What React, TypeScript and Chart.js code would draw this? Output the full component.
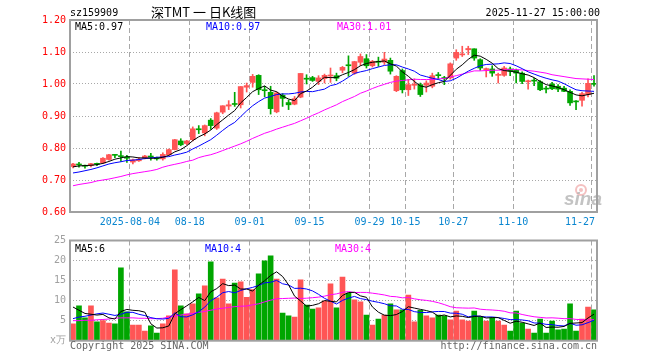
import React, { useEffect, useRef } from 'react';
import { Chart, registerables } from 'chart.js';
Chart.register(...registerables);

// ---------- data ----------
const symbol = 'sz159909';
const title = '深TMT 一 日K线图';
const dateTime = '2025-11-27 15:00:00';
const priceMaLabels = ['MA5:0.97', 'MA10:0.97', 'MA30:1.01'];
const volMaLabels = ['MA5:6', 'MA10:4', 'MA30:4'];
const volUnit = 'x万';
const copyright = 'Copyright 2025 SINA.COM';
const siteUrl = 'http://finance.sina.com.cn';

const tickIndex = [10, 20, 30, 40, 50, 56, 64, 74, 87];
const tickLabels = ['2025-08-04', '08-18', '09-01', '09-15', '09-29', '10-15', '10-27', '11-10', '11-27'];
const priceTicks = [0.6, 1.2];
const volTicks = [0, 25];

const opens = [
  0.742, 0.749, 0.744, 0.745, 0.750, 0.753, 0.764, 0.778, 0.775, 0.772,
  0.756, 0.760, 0.768, 0.775, 0.768, 0.766, 0.779, 0.795, 0.822, 0.814,
  0.826, 0.859, 0.847, 0.887, 0.862, 0.912, 0.931, 0.939, 0.935, 0.990,
  1.005, 1.027, 0.982, 0.974, 0.913, 0.965, 0.942, 0.937, 0.959, 1.017,
  1.020, 1.008, 1.017, 1.025, 1.026, 1.043, 1.059, 1.034, 1.068, 1.079,
  1.057, 1.070, 1.068, 1.074, 0.979, 1.042, 0.982, 0.996, 0.998, 0.996,
  0.993, 1.028, 1.019, 1.019, 1.081, 1.091, 1.107, 1.110, 1.076, 1.045,
  1.047, 1.027, 1.027, 1.047, 1.043, 1.034, 1.007, 1.011, 1.007, 0.986,
  1.000, 0.993, 0.987, 0.977, 0.946, 0.949, 0.967, 1.001,
];
const closes = [
  0.750, 0.747, 0.743, 0.751, 0.749, 0.768, 0.779, 0.777, 0.773, 0.768,
  0.763, 0.765, 0.775, 0.771, 0.766, 0.780, 0.795, 0.826, 0.810, 0.822,
  0.860, 0.857, 0.870, 0.870, 0.910, 0.932, 0.935, 0.936, 0.992, 0.995,
  1.024, 0.982, 0.979, 0.923, 0.972, 0.955, 0.935, 0.954, 1.033, 1.015,
  1.011, 1.019, 1.027, 1.027, 1.018, 1.052, 1.057, 1.070, 1.086, 1.057,
  1.071, 1.068, 1.078, 1.040, 1.024, 0.982, 0.998, 0.998, 0.967, 1.003,
  1.026, 1.026, 1.017, 1.063, 1.099, 1.094, 1.111, 1.081, 1.050, 1.047,
  1.034, 1.029, 1.050, 1.040, 1.034, 1.008, 1.009, 1.009, 0.982, 0.984,
  0.985, 0.984, 0.977, 0.941, 0.944, 0.970, 1.002, 0.999,
];
const highs = [
  0.752, 0.755, 0.747, 0.752, 0.753, 0.770, 0.780, 0.779, 0.790, 0.777,
  0.765, 0.770, 0.777, 0.783, 0.772, 0.785, 0.797, 0.827, 0.829, 0.824,
  0.866, 0.870, 0.872, 0.892, 0.912, 0.932, 0.948, 0.974, 0.992, 1.003,
  1.030, 1.029, 0.993, 0.993, 0.975, 0.970, 0.950, 0.961, 1.033, 1.029,
  1.024, 1.026, 1.031, 1.050, 1.034, 1.055, 1.088, 1.071, 1.094, 1.092,
  1.074, 1.084, 1.099, 1.081, 1.026, 1.047, 1.014, 1.016, 1.003, 1.010,
  1.034, 1.036, 1.024, 1.066, 1.107, 1.118, 1.118, 1.110, 1.079, 1.050,
  1.057, 1.034, 1.055, 1.053, 1.047, 1.038, 1.012, 1.018, 1.011, 0.993,
  1.005, 0.998, 0.993, 0.982, 0.948, 0.974, 1.016, 1.026,
];
const lows = [
  0.738, 0.740, 0.737, 0.741, 0.745, 0.752, 0.762, 0.770, 0.758, 0.755,
  0.750, 0.758, 0.766, 0.762, 0.762, 0.762, 0.777, 0.794, 0.807, 0.810,
  0.822, 0.845, 0.838, 0.858, 0.858, 0.907, 0.920, 0.930, 0.925, 0.975,
  0.990, 0.967, 0.960, 0.906, 0.910, 0.930, 0.920, 0.935, 0.957, 1.000,
  1.008, 0.998, 1.003, 1.005, 1.010, 1.035, 1.024, 1.030, 1.057, 1.050,
  1.053, 1.055, 1.061, 1.031, 0.976, 0.972, 0.964, 0.984, 0.961, 0.975,
  0.988, 1.016, 0.998, 1.015, 1.074, 1.086, 1.092, 1.074, 1.043, 1.022,
  1.024, 1.003, 1.024, 1.026, 1.003, 1.001, 0.984, 0.995, 0.979, 0.972,
  0.982, 0.976, 0.976, 0.933, 0.920, 0.931, 0.960, 0.993,
];
const ma5 = [
  0.741, 0.744, 0.745, 0.746, 0.748, 0.752, 0.758, 0.765, 0.769, 0.773,
  0.772, 0.769, 0.769, 0.768, 0.768, 0.771, 0.777, 0.788, 0.795, 0.807,
  0.823, 0.835, 0.844, 0.856, 0.873, 0.888, 0.903, 0.917, 0.941, 0.958,
  0.976, 0.986, 0.994, 0.981, 0.976, 0.962, 0.953, 0.948, 0.970, 0.978,
  0.990, 1.006, 1.021, 1.020, 1.020, 1.029, 1.036, 1.045, 1.057, 1.064,
  1.068, 1.070, 1.072, 1.063, 1.056, 1.038, 1.024, 1.008, 0.994, 0.990,
  0.998, 1.004, 1.008, 1.027, 1.046, 1.060, 1.077, 1.090, 1.087, 1.077,
  1.065, 1.048, 1.042, 1.040, 1.037, 1.032, 1.028, 1.020, 1.008, 0.998,
  0.994, 0.989, 0.982, 0.974, 0.966, 0.963, 0.967, 0.971,
];
const ma10 = [
  0.722, 0.725, 0.729, 0.733, 0.738, 0.744, 0.750, 0.754, 0.757, 0.761,
  0.762, 0.764, 0.767, 0.769, 0.771, 0.772, 0.773, 0.778, 0.782, 0.787,
  0.797, 0.806, 0.816, 0.826, 0.840, 0.855, 0.869, 0.880, 0.898, 0.916,
  0.932, 0.945, 0.956, 0.961, 0.967, 0.969, 0.969, 0.971, 0.975, 0.977,
  0.976, 0.980, 0.984, 0.995, 0.999, 1.009, 1.021, 1.033, 1.038, 1.042,
  1.048, 1.053, 1.058, 1.060, 1.060, 1.053, 1.047, 1.040, 1.028, 1.023,
  1.018, 1.014, 1.008, 1.010, 1.018, 1.029, 1.040, 1.049, 1.057, 1.061,
  1.062, 1.063, 1.066, 1.064, 1.057, 1.048, 1.038, 1.031, 1.024, 1.018,
  1.013, 1.009, 1.001, 0.991, 0.982, 0.979, 0.978, 0.977,
];
const ma30 = [
  0.682, 0.686, 0.689, 0.692, 0.697, 0.700, 0.703, 0.707, 0.711, 0.716,
  0.720, 0.723, 0.726, 0.729, 0.733, 0.740, 0.745, 0.749, 0.753, 0.758,
  0.762, 0.770, 0.775, 0.779, 0.785, 0.792, 0.799, 0.806, 0.813, 0.821,
  0.830, 0.838, 0.846, 0.852, 0.859, 0.865, 0.871, 0.877, 0.885, 0.893,
  0.902, 0.910, 0.919, 0.927, 0.935, 0.945, 0.953, 0.961, 0.971, 0.978,
  0.986, 0.993, 0.999, 1.005, 1.009, 1.011, 1.013, 1.015, 1.014, 1.014,
  1.014, 1.016, 1.017, 1.022, 1.026, 1.031, 1.036, 1.041, 1.041, 1.042,
  1.043, 1.043, 1.044, 1.045, 1.045, 1.044, 1.042, 1.040, 1.037, 1.034,
  1.029, 1.026, 1.023, 1.020, 1.017, 1.016, 1.015, 1.014,
];
const volumes = [
  4.2, 8.7, 5.7, 8.7, 4.7, 5.0, 4.4, 4.2, 18.2, 7.2,
  3.9, 3.9, 2.4, 3.7, 1.9, 4.2, 6.2, 17.7, 8.7, 6.7,
  9.2, 11.7, 13.7, 19.7, 10.7, 15.4, 9.2, 14.4, 14.7, 10.8,
  12.75, 16.7, 19.9, 21.2, 15.4, 6.9, 6.2, 5.9, 15.2, 8.9,
  7.9, 8.2, 9.9, 14.2, 8.2, 15.9, 11.9, 10.2, 9.7, 6.4,
  3.9, 5.4, 6.4, 9.2, 7.7, 7.7, 11.4, 4.7, 7.6, 6.2,
  5.7, 6.4, 6.2, 5.2, 7.4, 5.2, 4.9, 7.4, 5.9, 4.9,
  5.7, 4.9, 3.9, 2.4, 7.4, 4.4, 2.9, 1.9, 5.4, 1.9,
  4.9, 2.7, 2.9, 9.2, 2.4, 5.4, 8.4, 7.7,
];
const volMa5 = [
  8.4, 7.6, 6.8, 6.6, 6.4, 6.56, 5.7, 5.4, 7.3, 7.8,
  7.58, 7.48, 7.12, 4.22, 3.16, 3.22, 3.68, 6.74, 7.74, 8.7,
  9.7, 10.8, 10.0, 12.2, 13.0, 14.24, 13.74, 13.88, 12.88, 12.9,
  12.37, 13.87, 14.97, 16.27, 17.19, 16.02, 13.92, 11.12, 9.92, 8.62,
  8.82, 9.22, 10.02, 9.82, 9.68, 11.28, 12.02, 12.08, 11.18, 10.82,
  8.42, 7.12, 6.36, 6.26, 6.52, 7.28, 8.48, 8.14, 7.82, 7.52,
  7.12, 6.12, 6.42, 5.94, 6.18, 6.08, 5.78, 6.02, 6.16, 5.66,
  5.76, 5.76, 5.06, 4.36, 4.86, 4.6, 4.2, 3.8, 4.4, 3.3,
  3.4, 3.36, 3.56, 4.32, 4.42, 4.52, 5.66, 6.62,
];
const volMa10 = [
  5.5, 5.9, 6.1, 6.4, 6.7, 6.9, 6.6, 6.3, 6.6, 7.1,
  7.07, 6.59, 6.26, 5.76, 5.48, 5.4, 5.58, 6.93, 5.98, 5.93,
  6.46, 7.24, 8.37, 9.97, 10.85, 11.97, 12.27, 11.94, 12.54, 12.95,
  13.3, 13.8, 14.43, 14.58, 15.05, 14.2, 13.9, 13.05, 13.1, 12.9,
  12.42, 11.57, 10.57, 9.87, 9.15, 10.05, 10.62, 11.05, 10.5, 10.25,
  9.85, 9.57, 9.22, 8.72, 8.67, 7.85, 7.8, 7.25, 7.04, 7.02,
  7.2, 7.3, 7.28, 6.88, 6.85, 6.6, 5.95, 6.22, 6.05, 5.92,
  5.92, 5.77, 5.54, 5.26, 5.26, 5.18, 4.98, 4.43, 4.38, 4.08,
  4.0, 3.78, 3.68, 4.36, 3.86, 3.96, 4.51, 5.09,
];
const volMa30 = [
  5.0, 5.0, 5.1, 5.1, 5.2, 5.3, 5.4, 5.6, 5.7, 5.7,
  5.7, 5.6, 5.6, 5.5, 5.5, 5.6, 5.9, 6.1, 6.4, 6.6,
  6.8, 7.1, 7.3, 7.6, 7.9, 8.1, 8.3, 8.5, 8.6, 8.66,
  8.95, 9.21, 9.69, 10.1, 10.46, 10.52, 10.58, 10.64, 10.54, 10.6,
  10.73, 10.87, 11.12, 11.47, 11.68, 12.07, 12.26, 12.01, 12.05, 12.04,
  11.86, 11.65, 11.41, 11.06, 10.96, 10.7, 10.77, 10.45, 10.21, 10.06,
  9.82, 9.48, 9.02, 8.49, 8.22, 8.17, 8.12, 8.17, 7.86, 7.73,
  7.66, 7.55, 7.35, 6.95, 6.93, 6.54, 6.24, 5.97, 5.82, 5.67,
  5.71, 5.62, 5.5, 5.5, 5.32, 5.25, 5.15, 5.25,
];

// ---------- styling ----------
const MONO = '"DejaVu Sans Mono", monospace';
const UP = '#ff5555';
const DOWN = '#00a600';
const GRID = '#a8a8a8';
const FRAME = '#a0a0a0';
const C_MA5 = '#000000';
const C_MA10 = '#0000ff';
const C_MA30 = '#ff00ff';

const PLOT_LEFT = 70;
const PLOT_RIGHT = 597;
const W = 660;
const H1 = 236;
const TOP2 = 226;
const H2 = 360 - TOP2;

const N = closes.length;
const colors = closes.map((c, i) => (c >= opens[i] ? UP : DOWN));
const pts = (arr: number[]) => arr.map((v, i) => ({ x: i, y: v }));

const lineDs = (label: string, arr: number[], color: string) => ({
  type: 'line' as const,
  label,
  data: pts(arr),
  borderColor: color,
  borderWidth: 1,
  pointRadius: 0,
  tension: 0,
  order: 0,
});

const xScale = (height: number) => ({
  type: 'linear' as const,
  min: -0.5,
  max: N - 0.5,
  offset: false,
  afterBuildTicks: (s: any) => {
    s.ticks = tickIndex.map((i) => ({ value: i - 0.5 }));
  },
  afterFit: (s: any) => {
    s.height = height;
  },
  ticks: { display: false },
  grid: { color: GRID, lineWidth: 1, drawTicks: false, offset: false, borderDash: [5, 3] },
  border: { display: false, dash: [5, 3] },
});

const frame = (chart: any) => {
  const { ctx, chartArea } = chart;
  ctx.save();
  ctx.setLineDash([]);
  ctx.strokeStyle = FRAME;
  ctx.lineWidth = 2;
  ctx.strokeRect(chartArea.left, chartArea.top, chartArea.right - chartArea.left, chartArea.bottom - chartArea.top);
  ctx.restore();
};

export default function App() {
  const ref1 = useRef<HTMLCanvasElement>(null);
  const ref2 = useRef<HTMLCanvasElement>(null);

  useEffect(() => {
    document.body.style.margin = '0';
    const c1 = ref1.current!;
    const c2 = ref2.current!;

    const pricePlugin = {
      id: 'priceDecor',
      beforeDatasetsDraw(chart: any) {
        const { ctx } = chart;
        ctx.save();
        // sina watermark
        ctx.strokeStyle = 'rgba(235,140,140,0.55)';
        ctx.lineWidth = 2;
        ctx.beginPath();
        ctx.arc(581, 190, 5, 0, Math.PI * 2);
        ctx.stroke();
        ctx.fillStyle = 'rgba(235,140,140,0.55)';
        ctx.beginPath();
        ctx.arc(581, 190, 2, 0, Math.PI * 2);
        ctx.fill();
        ctx.font = 'italic bold 19px "Liberation Sans", Arial, sans-serif';
        ctx.fillStyle = 'rgba(175,175,175,0.75)';
        ctx.textAlign = 'left';
        ctx.textBaseline = 'middle';
        ctx.fillText('sina', 564, 200);
        ctx.restore();
      },
      afterDraw(chart: any) {
        frame(chart);
        const { ctx, chartArea } = chart;
        ctx.save();
        ctx.textBaseline = 'middle';
        ctx.font = `10px ${MONO}`;
        ctx.fillStyle = '#000';
        ctx.textAlign = 'left';
        ctx.fillText(symbol, 70, 13);
        ctx.textAlign = 'right';
        ctx.fillText(dateTime, 600, 13);
        ctx.font = '13px "Noto Sans CJK SC", sans-serif';
        ctx.textAlign = 'left';
        ctx.fillText(title, 151, 12);
        ctx.font = `10px ${MONO}`;
        ctx.fillStyle = C_MA5;
        ctx.fillText(priceMaLabels[0], 75, 27);
        ctx.fillStyle = C_MA10;
        ctx.fillText(priceMaLabels[1], 206, 27);
        ctx.fillStyle = C_MA30;
        ctx.fillText(priceMaLabels[2], 337, 27);
        // x labels
        const xs = chart.scales.x;
        ctx.fillStyle = '#0a86d0';
        tickIndex.forEach((ti, k) => {
          const px = xs.getPixelForValue(ti - 0.5);
          const last = k === tickIndex.length - 1;
          ctx.textAlign = last ? 'right' : 'center';
          ctx.fillText(tickLabels[k], last ? chartArea.right - 2 : px, 222);
        });
        ctx.restore();
      },
    };

    const volPlugin = {
      id: 'volDecor',
      afterDraw(chart: any) {
        frame(chart);
        const { ctx } = chart;
        ctx.save();
        ctx.textBaseline = 'middle';
        ctx.font = `10px ${MONO}`;
        ctx.textAlign = 'left';
        ctx.fillStyle = C_MA5;
        ctx.fillText(volMaLabels[0], 75, 249.5 - TOP2);
        ctx.fillStyle = C_MA10;
        ctx.fillText(volMaLabels[1], 205, 249.5 - TOP2);
        ctx.fillStyle = C_MA30;
        ctx.fillText(volMaLabels[2], 335, 249.5 - TOP2);
        ctx.fillStyle = '#666';
        ctx.fillText(copyright, 70, 346 - TOP2);
        ctx.textAlign = 'right';
        ctx.fillText(siteUrl, PLOT_RIGHT, 346 - TOP2);
        ctx.restore();
      },
    };

    const chart1 = new Chart(c1, {
      type: 'bar',
      data: {
        datasets: [
          lineDs('MA5', ma5, C_MA5),
          lineDs('MA10', ma10, C_MA10),
          lineDs('MA30', ma30, C_MA30),
          {
            type: 'bar',
            label: 'wick',
            data: lows.map((l, i) => ({ x: i, y: [l, highs[i]] })),
            backgroundColor: colors,
            borderWidth: 0,
            barThickness: 1,
            grouped: false,
            order: 2,
          } as any,
          {
            type: 'bar',
            label: 'body',
            data: opens.map((o, i) => ({ x: i, y: [o, closes[i]] })),
            backgroundColor: colors,
            borderWidth: 0,
            barThickness: 5,
            minBarLength: 1,
            grouped: false,
            order: 1,
          } as any,
        ],
      },
      options: {
        animation: false,
        responsive: false,
        events: [],
        layout: { padding: { left: 0, right: W - PLOT_RIGHT, top: 20, bottom: 0 } },
        plugins: { legend: { display: false }, tooltip: { enabled: false } },
        scales: {
          x: xScale(H1 - 212) as any,
          y: {
            type: 'linear',
            min: priceTicks[0],
            max: priceTicks[1],
            afterFit: (s: any) => {
              s.width = PLOT_LEFT;
            },
            ticks: {
              stepSize: 0.1,
              color: '#ff0000',
              padding: 4,
              font: { family: 'DejaVu Sans Mono', size: 10 },
              callback: (v: any) => Number(v).toFixed(2),
            },
            grid: {
              drawTicks: false,
              lineWidth: 1,
              borderDash: [1, 2],
              color: (c: any) =>
                c.tick && (Math.abs(c.tick.value - priceTicks[0]) < 1e-6 || Math.abs(c.tick.value - priceTicks[1]) < 1e-6)
                  ? 'rgba(0,0,0,0)'
                  : GRID,
            },
            border: { display: false, dash: [1, 2] },
          } as any,
        },
      },
      plugins: [pricePlugin],
    });

    const chart2 = new Chart(c2, {
      type: 'bar',
      data: {
        datasets: [
          lineDs('MA5', volMa5, C_MA5),
          lineDs('MA10', volMa10, C_MA10),
          lineDs('MA30', volMa30, C_MA30),
          {
            type: 'bar',
            label: 'vol',
            data: pts(volumes),
            backgroundColor: colors,
            borderWidth: 0,
            barThickness: 5,
            grouped: false,
            order: 1,
          } as any,
        ],
      },
      options: {
        animation: false,
        responsive: false,
        events: [],
        layout: { padding: { left: 0, right: W - PLOT_RIGHT, top: 240.5 - TOP2, bottom: 0 } },
        plugins: { legend: { display: false }, tooltip: { enabled: false } },
        scales: {
          x: xScale(H2 - (340.7 - TOP2)) as any,
          y: {
            type: 'linear',
            min: volTicks[0],
            max: volTicks[1],
            afterFit: (s: any) => {
              s.width = PLOT_LEFT;
            },
            ticks: {
              stepSize: 5,
              color: '#a0a0a0',
              padding: 4,
              font: { family: 'DejaVu Sans Mono', size: 10 },
              callback: (v: any) => (Number(v) === 0 ? volUnit : String(v)),
            },
            grid: {
              drawTicks: false,
              lineWidth: 1,
              borderDash: [1, 2],
              color: (c: any) =>
                c.tick && (c.tick.value === volTicks[0] || c.tick.value === volTicks[1]) ? 'rgba(0,0,0,0)' : GRID,
            },
            border: { display: false, dash: [1, 2] },
          } as any,
        },
      },
      plugins: [volPlugin],
    });

    return () => {
      chart1.destroy();
      chart2.destroy();
    };
  }, []);

  return (
    <div style={{ position: 'relative', width: W, height: 360, background: '#fff' }}>
      <canvas ref={ref1} width={W} height={H1} style={{ position: 'absolute', left: 0, top: 0 }} />
      <canvas ref={ref2} width={W} height={H2} style={{ position: 'absolute', left: 0, top: TOP2 }} />
    </div>
  );
}
